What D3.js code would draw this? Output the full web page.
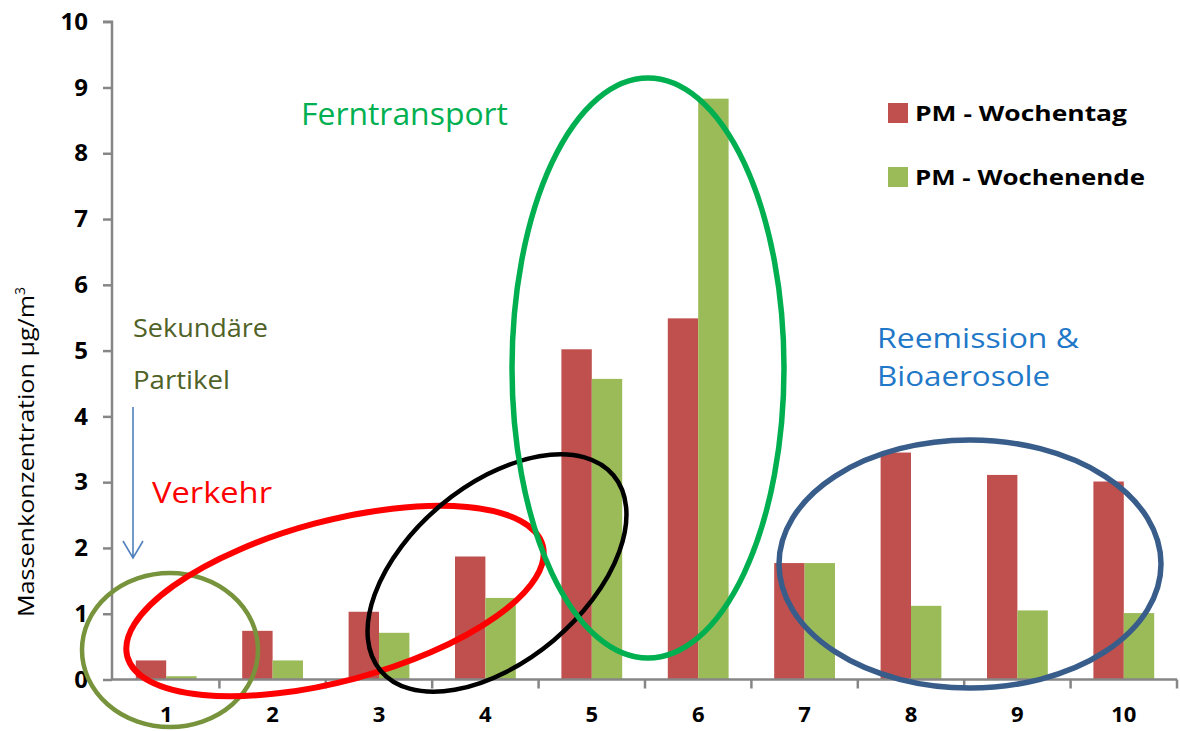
<!DOCTYPE html>
<html><head><meta charset="utf-8">
<script src="https://cdn.jsdelivr.net/npm/d3@7"></script>
<style>html,body{margin:0;padding:0;background:#fff}svg{display:block}</style>
</head><body>
<svg id="c" width="1180" height="731"></svg>
<script>
const categories = ["1","2","3","4","5","6","7","8","9","10"];
const seriesNames = ["PM - Wochentag","PM - Wochenende"];
const wochentag = [0.29,0.74,1.03,1.87,5.02,5.49,1.77,3.45,3.11,3.01];
const wochenende = [0.05,0.29,0.71,1.24,4.57,8.83,1.77,1.12,1.05,1.01];
const yTicks = [0,1,2,3,4,5,6,7,8,9,10];
const yTitle = "Massenkonzentration µg/m";
const colors = ["#C0504D","#9BBB59"];

const svg = d3.select("#c");
const FONT = "'Open Sans', 'Lato', sans-serif";
const y = d3.scaleLinear().domain([0,10]).range([679.5,21.7]);
const x0 = d3.scaleBand().domain(categories).range([113,1177]).padding(0);
const x1 = d3.scaleBand().domain(seriesNames).range([0,x0.bandwidth()]).paddingInner(0).paddingOuter(0.75);
const axisColor = "#868686";

// bars
const data = categories.map((c,i)=>({c, vals:[wochentag[i], wochenende[i]]}));
const g = svg.append("g");
data.forEach(d=>{
  d.vals.forEach((v,j)=>{
    g.append("rect")
      .attr("x", x0(d.c)+x1(seriesNames[j]))
      .attr("y", y(v))
      .attr("width", x1.bandwidth())
      .attr("height", y(0)-y(v))
      .attr("fill", colors[j]);
  });
});

// y axis
const ya = svg.append("g").attr("transform","translate(112,0)")
  .call(d3.axisLeft(y).tickValues(yTicks).tickSize(9).tickPadding(15).tickFormat(d3.format("d")));
ya.select(".domain").attr("stroke",axisColor).attr("stroke-width",2.5).attr("d",`M-9,${y(10)}H0V${y(0)}`);
ya.selectAll(".tick line").attr("stroke",axisColor).attr("stroke-width",2.5);
ya.selectAll(".tick text").attr("font-family",FONT).attr("font-weight","bold").attr("font-size",24).attr("fill","#000");

// x axis
const xa = svg.append("g").attr("transform",`translate(0,${y(0)})`)
  .call(d3.axisBottom(x0).tickSize(0).tickPadding(27));
xa.select(".domain").attr("stroke",axisColor).attr("stroke-width",2.5).attr("d",`M112,0H1177`);
xa.selectAll(".tick text").attr("font-family",FONT).attr("font-weight","bold").attr("font-size",22).attr("fill","#000");
const bounds = categories.map(c=>x0(c)).concat([x0(categories[categories.length-1])+x0.bandwidth()]);
xa.selectAll("line.b").data(bounds.slice(1)).enter().append("line")
  .attr("x1",d=>d).attr("x2",d=>d).attr("y1",0).attr("y2",9)
  .attr("stroke",axisColor).attr("stroke-width",2.5);

// y title
const yt = svg.append("text").attr("transform","translate(34,452) rotate(-90)")
  .attr("text-anchor","middle").attr("font-family",FONT).attr("font-size",21).attr("fill","#000");
yt.append("tspan").attr("textLength",322).attr("lengthAdjust","spacingAndGlyphs").text(yTitle);
yt.append("tspan").attr("dy",-9).attr("font-size",14).text("3");

// legend
seriesNames.forEach((s,j)=>{
  const ly = [113,177][j];
  svg.append("rect").attr("x",888).attr("y",ly-10).attr("width",20).attr("height",20).attr("fill",colors[j]);
  svg.append("text").attr("x",915).attr("y",ly+8).attr("font-family",FONT).attr("font-weight","bold")
    .attr("font-size",22).attr("fill","#000").attr("textLength",[212,230][j]).attr("lengthAdjust","spacingAndGlyphs").text(s);
});

// annotations text
const labels = [
  {t:"Ferntransport", x:301, y:125, s:31, w:207, c:"#00B050"},
  {t:"Reemission &", x:877, y:348, s:28, w:202, c:"#1F78C8"},
  {t:"Bioaerosole", x:877, y:386, s:28, w:173, c:"#1F78C8"},
  {t:"Sekundäre", x:133, y:337, s:25, w:135, c:"#4F6228"},
  {t:"Partikel", x:133, y:389, s:25, w:97, c:"#4F6228"},
  {t:"Verkehr", x:152, y:503, s:29, w:120, c:"#FF0000"}
];
labels.forEach(l=>{
  svg.append("text").attr("x",l.x).attr("y",l.y).attr("font-family",FONT).attr("font-size",l.s)
    .attr("fill",l.c).attr("textLength",l.w).attr("lengthAdjust","spacingAndGlyphs").text(l.t);
});

// arrow
svg.append("path").attr("d","M133,407V558M123,541L133,558L143,541")
  .attr("fill","none").attr("stroke","#4F81BD").attr("stroke-width",1.6);

// ellipses
const ellipses = [
  {cx:170, cy:650, rx:88, ry:77, a:0, c:"#77933C", w:4.5},
  {cx:335, cy:601, rx:215, ry:80, a:-15, c:"#FF0000", w:6},
  {cx:497, cy:573, rx:152, ry:88, a:-40, c:"#000000", w:4.5},
  {cx:648, cy:368, rx:136, ry:290, a:0, c:"#00B050", w:5.5},
  {cx:970, cy:564, rx:191, ry:124, a:0, c:"#385D8A", w:5.5}
];
ellipses.forEach(e=>{
  svg.append("ellipse").attr("cx",0).attr("cy",0).attr("rx",e.rx).attr("ry",e.ry)
    .attr("transform",`translate(${e.cx},${e.cy}) rotate(${e.a})`)
    .attr("fill","none").attr("stroke",e.c).attr("stroke-width",e.w);
});
</script>
</body></html>
